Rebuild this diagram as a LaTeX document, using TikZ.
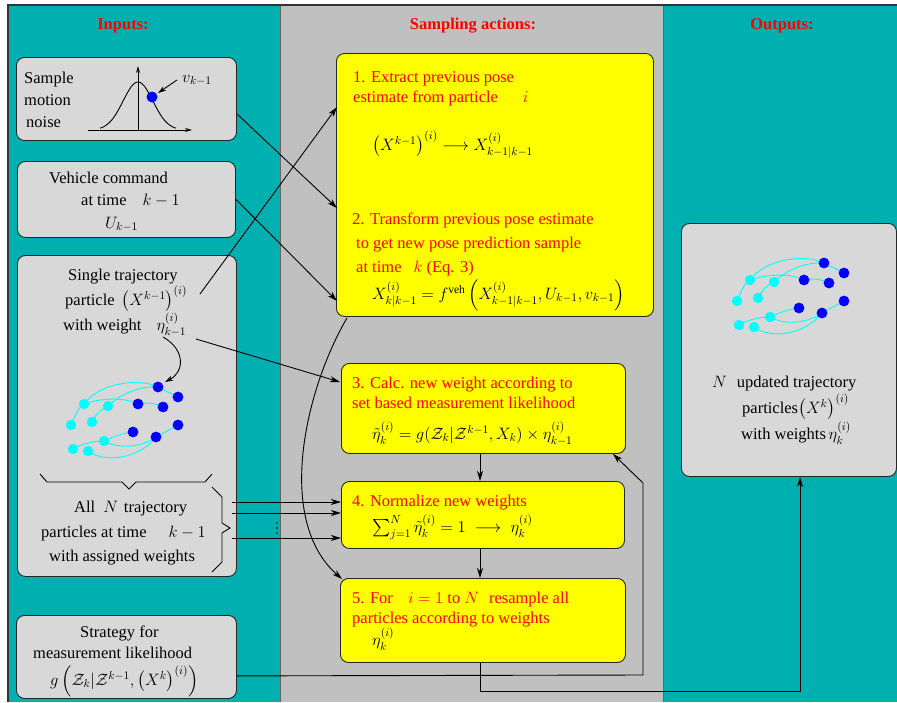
\RequirePackage{fix-cm}
\documentclass[tikz,border=0pt]{standalone}
\usepackage{fontspec}
\setmainfont{Liberation Serif}
\usepackage{amsmath}
\usetikzlibrary{arrows.meta,calc}
\definecolor{tealbg}{RGB}{0,176,176}
\definecolor{midgrey}{RGB}{192,192,192}
\definecolor{boxgrey}{RGB}{216,216,216}
\definecolor{ylw}{RGB}{255,255,0}
\definecolor{cyn}{RGB}{0,255,255}
\definecolor{blu}{RGB}{0,0,255}
\definecolor{redt}{RGB}{255,0,0}
\newcommand{\trajcluster}{%
  \begin{scope}[cyn, line width=0.9pt]
    \draw (71,425) .. controls (75,415) and (78,408) .. (84,404);
    \draw (84,404) .. controls (100,382) and (140,378) .. (158,387);
    \draw (84,404) .. controls (100,398) and (125,397) .. (138,404);
    \draw (92,422) .. controls (96,414) and (101,409) .. (108,406);
    \draw (108,406) .. controls (122,393) and (140,386) .. (158,387);
    \draw (138,404) .. controls (146,402) and (155,403) .. (163,407);
    \draw (158,387) -- (178,397);
    \draw (73,449) .. controls (84,443) and (95,441) .. (104,441);
    \draw (104,441) .. controls (113,437) and (122,433) .. (133,432);
    \draw (104,441) .. controls (118,449) and (140,448) .. (156,437);
    \draw (88,451) .. controls (105,464) and (140,458) .. (156,437);
    \draw (156,437) -- (178,425);
  \end{scope}
  \foreach \p in {(84,404),(108,406),(71,425),(92,422),(104,441),(73,449),(88,451)}
    \fill[cyn] \p circle[radius=5.2];
  \foreach \p in {(158,387),(178,397),(138,404),(163,407),(133,432),(178,425),(156,437)}
    \fill[blu] \p circle[radius=5.4];
}
\begin{document}
\begin{tikzpicture}[x=1pt,y=-1pt,
  txt/.style={anchor=base west, inner sep=0pt, text=black, font=\fontsize{16.5}{22}\selectfont},
  rtxt/.style={txt, text=redt},
  head/.style={anchor=base, inner sep=0pt, text=redt, font=\fontsize{16.5}{22}\selectfont\bfseries},
  gbox/.style={draw=black!85, fill=boxgrey, rounded corners=8pt, line width=0.9pt, anchor=north west, inner sep=0pt},
  ybox/.style={gbox, fill=ylw},
  conn/.style={draw=black, line width=0.9pt, -{Stealth[length=10pt,width=6pt,inset=3pt]}},
  thin/.style={draw=black, line width=0.9pt}]
\useasboundingbox (0,0) rectangle (897,702);
% panels
\fill[tealbg] (8,5) rectangle (280,702);
\fill[midgrey] (280,5) rectangle (663,702);
\fill[tealbg] (663,5) rectangle (897,702);
\draw[black!60, line width=1pt] (280,5) -- (280,702);
\draw[black!60, line width=1pt] (663,5) -- (663,702);
\draw[black!80, line width=1.2pt] (8,702) -- (8,5) -- (897,5);
% headings
\node[head] (hin) at (123,29) {Inputs:};
\node[head] (hsa) at (473,29) {Sampling actions:};
\node[head] (hout) at (782,29) {Outputs:};
% grey input boxes
\node[gbox, minimum width=220pt, minimum height=83pt] (noise) at (16,57) {};
\node[gbox, minimum width=218pt, minimum height=76pt] (veh) at (17,161) {};
\node[gbox, minimum width=219pt, minimum height=321pt] (part) at (17,255) {};
\node[gbox, minimum width=220pt, minimum height=83pt] (strat) at (16,615) {};
\node[gbox, minimum width=215pt, minimum height=253pt] (out) at (681,223) {};
% yellow boxes
\node[ybox, minimum width=317pt, minimum height=263pt] (y1) at (336,53) {};
\node[ybox, minimum width=284pt, minimum height=90pt] (y3) at (341,363) {};
\node[ybox, minimum width=283pt, minimum height=67pt] (y4) at (341,481) {};
\node[ybox, minimum width=285pt, minimum height=84pt] (y5) at (340,578) {};
% noise box content
\node[txt] (n1) at (24,83) {Sample};
\node[txt] (n2) at (24,105) {motion};
\node[txt] (n3) at (26,127) {noise};
\draw[thin, -{Stealth[length=7pt,width=4pt]}] (88,130) -- (192,130);
\draw[thin, -{Stealth[length=7pt,width=4pt]}] (138,130) -- (138,66);
\draw[thin] plot[domain=100:176, samples=80, smooth] (\x,{130-48*exp(-((\x-138)/21)*((\x-138)/21))});
\fill[blu] (152,97) circle[radius=5.5];
\node[txt] (vlab) at (182,82) {$v_{k-1}$};
\coordinate (vs) at (177,80);
\coordinate (ve) at (158,93);
\draw[conn, -{Stealth[length=8pt,width=5pt,inset=2pt]}] (vs) -- (ve);
% vehicle box
\node[txt] (v1) at (49,183) {Vehicle command};
\node[txt] (v2) at (81,205) {at time\hspace{16pt}$k-1$};
\node[txt] (v3) at (105,228) {$U_{k-1}$};
% particle box
\node[txt] (p1) at (68,280) {Single trajectory};
\node[txt] (p2) at (65,305) {particle\, $\left(X^{k-1}\right)^{(i)}$};
\node[txt] (p3) at (63,330) {with weight\hspace{15pt}$\eta^{(i)}_{k-1}$};
\coordinate (ps) at (163,337);
\coordinate (pe) at (165,382);
\draw[conn, -{Stealth[length=8pt,width=5pt,inset=2pt]}] (ps) .. controls (186,350) and (184,372) .. (pe);
\trajcluster
\draw[thin] (40,474) -- (47,482) -- (122,482) -- (129,489) -- (136,482) -- (205,482) -- (212,474);
\draw[thin] (212,487) -- (222,497) -- (222,523) -- (230,528) -- (222,533) -- (222,562) -- (212,572);
\node[txt] (p4) at (74,512) {All\hspace{8pt}$N$\hspace{6pt}trajectory};
\node[txt] (p5) at (41,537) {particles at time\hspace{22pt}$k-1$};
\node[txt] (p6) at (49,561) {with assigned weights};
% strategy box
\node[txt] (s1) at (80,637) {Strategy for};
\node[txt] (s2) at (33,658) {measurement likelihood};
\node[txt] (s3) at (50,685) {$g\left(\mathcal{Z}_k|\mathcal{Z}^{k-1},\left(X^k\right)^{(i)}\right)$};
% output box
\begin{scope}[shift={(666,-124)}]
\trajcluster
\end{scope}
\node[txt] (o1) at (712,387) {$N$\hspace{10pt}updated trajectory};
\node[txt] (o2) at (742,413) {particles$\left(X^k\right)^{(i)}$};
\node[txt] (o3) at (741,439) {with weights$\,\eta^{(i)}_k$};
% yellow box 1/2 text
\node[rtxt] (a1) at (353,82) {1. Extract previous pose};
\node[rtxt] (a2) at (353,102) {estimate from particle\hspace{25pt}$i$};
\node[txt] (a3) at (372,150) {$\left(X^{k-1}\right)^{(i)}\longrightarrow X^{(i)}_{k-1|k-1}$};
\node[rtxt] (b1) at (352,224) {2. Transform previous pose estimate};
\node[rtxt] (b2) at (356,248) {to get new pose prediction sample};
\node[rtxt] (b3) at (356,272) {at time\hspace{12pt}$k$ (Eq. 3)};
\node[txt] (b4) at (372,299) {$X^{(i)}_{k|k-1}=f^{\text{veh}}\left(X^{(i)}_{k-1|k-1},U_{k-1},v_{k-1}\right)$};
% box 3
\node[rtxt] (c1) at (352,388) {3. Calc. new weight according to};
\node[rtxt] (c2) at (352,408) {set based measurement likelihood};
\node[txt] (c3) at (372,439) {$\tilde\eta^{(i)}_k=g(\mathcal{Z}_k|\mathcal{Z}^{k-1},X_k)\times\eta^{(i)}_{k-1}$};
% box 4
\node[rtxt] (d1) at (352,506) {4. Normalize new weights};
\node[txt] (d2) at (372,532) {$\sum_{j=1}^N\tilde\eta^{(i)}_k=1\;\longrightarrow\;\eta^{(i)}_k$};
% box 5
\node[rtxt] (e1) at (352,603) {5. For\hspace{15pt}$i=1$ to $N$\hspace{10pt}resample all};
\node[rtxt] (e2) at (352,623) {particles according to weights};
\node[txt] (e3) at (372,645) {$\eta^{(i)}_k$};
% connectors
\draw[conn] ($(noise.south east)+(0,-27)$) -- ($(y1.north west)+(1,155)$);
\draw[conn] (veh.east) -- ($(y1.north west)+(1,248)$);
\coordinate (pstart) at (200,294);
\draw[conn] (pstart) -- ($(y1.north west)+(1,54)$);
\coordinate (wstart) at (196,339);
\draw[conn] (wstart) -- ($(y3.north west)+(-1,19)$);
\draw[conn] ($(y1.south west)+(11,1)$) .. controls (305,390) and (275,520) .. ($(y5.north west)+(2,1)$);
\draw[conn] ($(y3.south west)+(139,0)$) -- ($(y4.north west)+(139,0)$);
\draw[conn] ($(y4.south west)+(139,0)$) -- ($(y5.north west)+(140,0)$);
\draw[conn] ($(y5.south west)+(140,0)$) -- ++(0,29) -| ($(out.south west)+(119,0)$);
\coordinate (bt1) at (643,675);
\coordinate (bt2) at (643,483);
\draw[conn] ($(strat.south east)+(0,-23)$) -- (bt1) -- (bt2) -- ($(y3.south east)+(-13,0)$);
\coordinate (br1) at (232,502);
\coordinate (br2) at (232,513);
\coordinate (br3) at (232,538);
\draw[conn] (br1) -- (br1 -| y4.west);
\draw[conn] (br2) -- (br2 -| y4.west);
\draw[conn] (br3) -- (br3 -| y4.west);
\foreach \yy in {523,528,533} \fill[black] (277,\yy) circle[radius=0.9];
\end{tikzpicture}
\end{document}
